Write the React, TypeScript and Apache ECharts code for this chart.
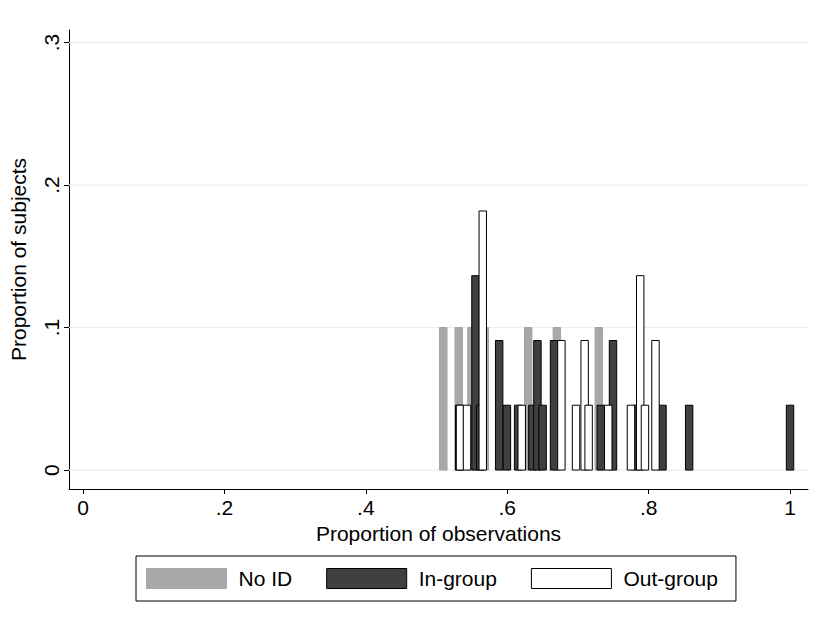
import React, { useEffect, useRef } from "react";
import * as echarts from "echarts";

// Bar positions (proportion of observations) and heights (proportion of subjects)
const noIdX = [0.5096, 0.5314, 0.5494, 0.5682, 0.6297, 0.6702, 0.7295];
const noIdY = [0.1, 0.1, 0.1, 0.1, 0.1, 0.1, 0.1];

const inGroupX = [0.532, 0.5551, 0.5617, 0.5886, 0.5996, 0.6154, 0.6356, 0.6427, 0.65, 0.6662, 0.7323, 0.7496, 0.7832, 0.8196, 0.8573, 1.0];
const inGroupY = [0.0455, 0.1364, 0.0455, 0.0909, 0.0455, 0.0455, 0.0455, 0.0909, 0.0455, 0.0909, 0.0455, 0.0909, 0.0455, 0.0455, 0.0455, 0.0455];

const outGroupX = [0.5332, 0.5431, 0.5654, 0.6205, 0.6766, 0.6973, 0.7095, 0.7151, 0.7429, 0.775, 0.7881, 0.7948, 0.8097];
const outGroupY = [0.0455, 0.0455, 0.1818, 0.0455, 0.0909, 0.0455, 0.0909, 0.0455, 0.0455, 0.0455, 0.1364, 0.0455, 0.0909];

const xTicks = [0, 0.2, 0.4, 0.6, 0.8, 1];
const yTicks = [0, 0.1, 0.2, 0.3];

const FONT = '"Liberation Sans", Arial, Helvetica, sans-serif';
const FONT_SIZE = 21;
const BAR_W = 0.0105; // bar width in x-axis units

const fmt = (v: number) => (v === 0 ? "0" : v === 1 ? "1" : String(v).replace(/^0/, ""));

const pairs = (xs: number[], ys: number[]) => xs.map((x, i) => [x, ys[i]]);

function barSeries(name: string, xs: number[], ys: number[], fill: string, stroke: string, lw: number) {
  return {
    type: "custom",
    name,
    data: pairs(xs, ys),
    itemStyle: { color: fill, borderColor: stroke, borderWidth: lw },
    renderItem: (params: any, api: any) => {
      const x = api.value(0);
      const y = api.value(1);
      const p0 = api.coord([x - BAR_W / 2, y]);
      const p1 = api.coord([x + BAR_W / 2, 0]);
      return {
        type: "rect",
        shape: { x: p0[0], y: p0[1], width: p1[0] - p0[0], height: p1[1] - p0[1] },
        style: { fill, stroke, lineWidth: lw },
      };
    },
  };
}

export default function App() {
  const ref = useRef<HTMLDivElement>(null);

  useEffect(() => {
    if (!ref.current) return;
    const chart = echarts.init(ref.current, undefined, { renderer: "svg" });
    const axisText = { fontSize: FONT_SIZE, color: "#000", fontFamily: FONT };
    chart.setOption({
      animation: false,
      backgroundColor: "#fff",
      textStyle: { fontFamily: FONT },
      grid: { left: 68, top: 30, width: 740, height: 459 },
      xAxis: {
        type: "value",
        min: -0.0198,
        max: 1.0254,
        name: "Proportion of observations",
        nameLocation: "middle",
        nameGap: 28,
        nameTextStyle: axisText,
        axisLine: { show: true, onZero: false, lineStyle: { color: "#000", width: 1 } },
        axisTick: { show: true, length: 5, customValues: xTicks, lineStyle: { color: "#000" } },
        axisLabel: { customValues: xTicks, formatter: fmt, margin: 8, ...axisText },
        splitLine: { show: false },
      },
      yAxis: {
        type: "value",
        min: -0.0133,
        max: 0.3088,
        name: "Proportion of subjects",
        nameLocation: "middle",
        nameRotate: 90,
        nameGap: 40,
        nameTextStyle: axisText,
        axisLine: { show: true, onZero: false, lineStyle: { color: "#000", width: 1 } },
        axisTick: { show: true, length: 5, customValues: yTicks, lineStyle: { color: "#000" } },
        axisLabel: { customValues: yTicks, formatter: fmt, rotate: 90, margin: 7, ...axisText },
        splitLine: { show: false },
      },
      legend: {
        left: 136,
        top: 556,
        padding: [12, 18, 12, 10],
        itemWidth: 80,
        itemHeight: 20,
        itemGap: 34,
        borderColor: "#000",
        borderWidth: 1,
        selectedMode: false,
        icon: "rect",
        textStyle: { fontSize: FONT_SIZE, color: "#000", fontFamily: FONT, padding: [0, 0, 0, 7] },
        data: [
          { name: "No ID", itemStyle: { color: "#a8a8a8", borderColor: "#a8a8a8", borderWidth: 1 } },
          { name: "In-group", itemStyle: { color: "#404040", borderColor: "#000", borderWidth: 1 } },
          { name: "Out-group", itemStyle: { color: "#fff", borderColor: "#000", borderWidth: 1 } },
        ],
      },
      series: [
        {
          type: "custom",
          name: "grid",
          silent: true,
          data: yTicks.map((v) => [0, v]),
          renderItem: (params: any, api: any) => {
            const cs = params.coordSys;
            const yy = api.coord([0, api.value(1)])[1];
            return {
              type: "line",
              shape: { x1: cs.x, y1: yy, x2: cs.x + cs.width, y2: yy },
              style: { stroke: "#e6eff0", lineWidth: 1.2 },
            };
          },
        },
        barSeries("No ID", noIdX, noIdY, "#a8a8a8", "#a3a3a3", 1),
        barSeries("In-group", inGroupX, inGroupY, "#404040", "#000", 1),
        barSeries("Out-group", outGroupX, outGroupY, "#fff", "#000", 1),
      ],
    });
    return () => chart.dispose();
  }, []);

  return <div ref={ref} style={{ position: "fixed", left: 0, top: 0, width: 816, height: 620 }} />;
}
